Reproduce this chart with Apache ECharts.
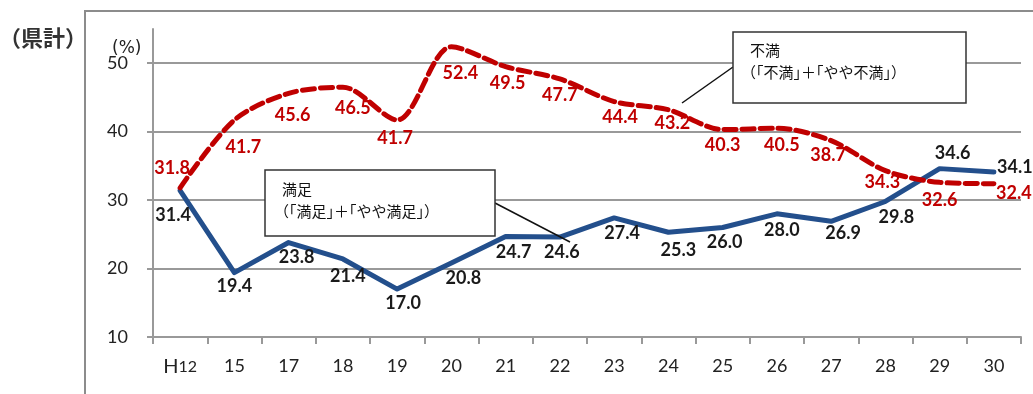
<!DOCTYPE html>
<html>
<head>
<meta charset="utf-8">
<script src="https://cdn.jsdelivr.net/npm/echarts@6/dist/echarts.min.js"></script>
<style>
  html, body { margin: 0; padding: 0; background: #fff; }
  #chart { width: 1033px; height: 394px; }
</style>
</head>
<body>
<div id="chart"></div>
<script>
// Survey years (Heisei) and shares of respondents, %
const categories = ['H12', '15', '17', '18', '19', '20', '21', '22', '23', '24', '25', '26', '27', '28', '29', '30'];
const dissatisfied = [31.8, 41.7, 45.6, 46.5, 41.7, 52.4, 49.5, 47.7, 44.4, 43.2, 40.3, 40.5, 38.7, 34.3, 32.6, 32.4];
const satisfied = [31.4, 19.4, 23.8, 21.4, 17.0, 20.8, 24.7, 24.6, 27.4, 25.3, 26.0, 28.0, 26.9, 29.8, 34.6, 34.1];
const yTicks = [10, 20, 30, 40, 50];

// Per-point label nudges (px) so the value labels sit clear of the lines
const dissatisfiedLabelShift = [[-8, -20], [9, 27], [4, 22], [10, 21], [-2, 18], [9, 26], [2, 17], [0, 16], [6, 16], [4, 13], [0, 16], [5, 17], [-3, 15], [-3, 12], [0, 18], [20, 10]];
const satisfiedLabelShift = [[-7, 25], [0, 14], [8, 15], [5, 17], [6, 14], [12, 15], [8, 16], [2, 15], [8, 15], [10, 18], [2, 15], [5, 16], [12, 12], [11, 16], [13, -15], [21, -5]];

const RED = '#c00000';
const BLUE = '#234f8c';
const GRID = '#999999';

function withLabels(values, shifts) {
  return values.map((v, i) => ({
    value: v,
    label: { offset: shifts[i] }
  }));
}

const labelBase = {
  show: true,
  position: 'inside',
  fontFamily: 'Lato',
  fontWeight: 'bold',
  fontSize: 18,
  formatter: p => p.value.toFixed(1)
};

const chart = echarts.init(document.getElementById('chart'), null, { renderer: 'canvas' });

chart.setOption({
  animation: false,
  backgroundColor: '#ffffff',
  grid: { left: 153, right: 12, top: 29, bottom: 57, containLabel: false },
  xAxis: {
    type: 'category',
    data: categories,
    boundaryGap: true,
    axisLine: { lineStyle: { color: GRID, width: 2 } },
    axisTick: { show: true, interval: 0, length: 7, lineStyle: { color: GRID, width: 2 } },
    axisLabel: {
      interval: 0,
      margin: 20,
      color: '#222',
      fontFamily: 'Lato',
      fontSize: 18,
      formatter: v => v === 'H12' ? '{h|H}{n|12}' : v,
      rich: {
        h: { fontFamily: 'Lato', fontSize: 20, color: '#222' },
        n: { fontFamily: 'Lato', fontSize: 16, color: '#222' }
      }
    },
    splitLine: { show: false }
  },
  yAxis: {
    type: 'value',
    min: 10,
    max: 55,
    interval: 10,
    axisLine: { show: true, lineStyle: { color: GRID, width: 2 } },
    axisTick: { show: true, length: 6, customValues: yTicks, lineStyle: { color: GRID, width: 2 } },
    axisLabel: { customValues: yTicks, margin: 25, color: '#222', fontFamily: 'Lato', fontSize: 18, padding: [5, 0, 0, 0] },
    splitLine: { show: true, lineStyle: { color: GRID, width: 2 } }
  },
  series: [
    {
      name: '満足',
      type: 'line',
      data: withLabels(satisfied, satisfiedLabelShift),
      symbol: 'circle',
      symbolSize: 1,
      itemStyle: { color: 'rgba(0,0,0,0)' },
      lineStyle: { color: BLUE, width: 5, join: 'round', cap: 'round' },
      label: Object.assign({}, labelBase, { color: '#1a1a1a' }),
      clip: false,
      z: 3
    },
    {
      name: '不満',
      type: 'line',
      data: withLabels(dissatisfied, dissatisfiedLabelShift),
      smooth: 0.3,
      symbol: 'circle',
      symbolSize: 1,
      itemStyle: { color: 'rgba(0,0,0,0)' },
      lineStyle: { color: RED, width: 5, type: [12, 6], cap: 'round' },
      label: Object.assign({}, labelBase, { color: RED }),
      clip: false,
      z: 4
    }
  ],
  graphic: [
    // outer frame
    {
      type: 'polyline', silent: true, z: 0,
      shape: { points: [[85, 400], [85, 11], [1040, 11]] },
      style: { fill: null, stroke: '#8c8c8c', lineWidth: 2 }
    },
    {
      type: 'text', left: -1, top: 27,
      style: { text: '（県計）', fontFamily: 'Noto Sans CJK JP', fontSize: 22, fontWeight: 'bold', fill: '#333' }
    },
    // unit of the value axis
    {
      type: 'text', left: 112, top: 40,
      style: { text: '(%)', fontFamily: 'DejaVu Sans', fontSize: 17, fill: '#222' }
    },
    // callout: dissatisfied
    {
      type: 'line', z: 5, silent: true,
      shape: { x1: 733, y1: 67, x2: 682, y2: 103 },
      style: { stroke: '#111', lineWidth: 1.5 }
    },
    {
      type: 'rect', z: 6, silent: true,
      shape: { x: 733, y: 32, width: 233, height: 71 },
      style: { fill: '#fff', stroke: '#333', lineWidth: 1.5 }
    },
    {
      type: 'text', z: 7, left: 750, top: 43,
      style: { text: '不満', fontFamily: 'Noto Sans CJK JP', fontSize: 15, fill: '#111' }
    },
    {
      type: 'text', z: 7, left: 741, top: 65,
      style: { text: '（｢不満｣＋｢やや不満｣）', fontFamily: 'Noto Sans CJK JP', fontSize: 15, fill: '#111' }
    },
    // callout: satisfied
    {
      type: 'line', z: 5, silent: true,
      shape: { x1: 495, y1: 203, x2: 570, y2: 242 },
      style: { stroke: '#111', lineWidth: 1.5 }
    },
    {
      type: 'rect', z: 6, silent: true,
      shape: { x: 265, y: 170, width: 230, height: 66 },
      style: { fill: '#fff', stroke: '#333', lineWidth: 1.5 }
    },
    {
      type: 'text', z: 7, left: 282, top: 182,
      style: { text: '満足', fontFamily: 'Noto Sans CJK JP', fontSize: 15, fill: '#111' }
    },
    {
      type: 'text', z: 7, left: 274, top: 204,
      style: { text: '（｢満足｣＋｢やや満足｣）', fontFamily: 'Noto Sans CJK JP', fontSize: 15, fill: '#111' }
    }
  ]
});
</script>
</body>
</html>
